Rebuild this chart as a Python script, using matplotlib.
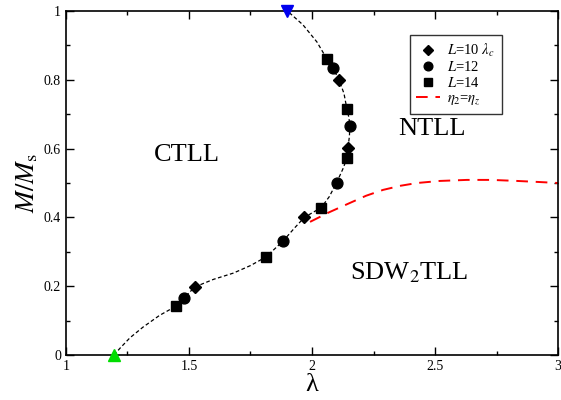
#!/usr/bin/env python3
"""Magnetization phase diagram M/Ms vs lambda."""

import matplotlib

matplotlib.use("Agg")
import matplotlib.pyplot as plt
from matplotlib.ticker import MultipleLocator

# L=10 (diamonds), L=12 (circles), L=14 (squares)
lam_L10 = [1.524, 1.969, 2.146, 2.110]
m_L10 = [0.198, 0.400, 0.602, 0.800]
lam_L12 = [1.480, 1.882, 2.100, 2.154, 2.085]
m_L12 = [0.166, 0.331, 0.501, 0.666, 0.834]
lam_L14 = [1.447, 1.813, 2.037, 2.142, 2.142, 2.061]
m_L14 = [0.142, 0.285, 0.428, 0.572, 0.715, 0.860]

# critical line (black dashed)
lam_crit = [1.195, 1.22, 1.26, 1.313, 1.38, 1.447, 1.48, 1.524, 1.60, 1.68, 1.75,
            1.813, 1.882, 1.93, 1.969, 2.00, 2.037, 2.07, 2.100, 2.125, 2.142, 2.146,
            2.152, 2.154, 2.150, 2.142, 2.13, 2.110, 2.085, 2.061, 2.02, 1.963, 1.90]
m_crit = [0.0, 0.02, 0.05, 0.081, 0.115, 0.142, 0.166, 0.198, 0.22, 0.238, 0.26,
          0.285, 0.331, 0.37, 0.400, 0.413, 0.428, 0.46, 0.501, 0.54, 0.572, 0.602,
          0.635, 0.666, 0.69, 0.715, 0.76, 0.800, 0.834, 0.860, 0.91, 0.96, 1.0]

# eta_2 = eta_z line (red dashed)
lam_eta = [1.992, 2.07, 2.154, 2.22, 2.289, 2.36, 2.427, 2.52, 2.63, 2.73, 2.833, 2.92, 3.0]
m_eta = [0.387, 0.415, 0.442, 0.463, 0.480, 0.492, 0.500, 0.506, 0.509, 0.509, 0.506, 0.503, 0.500]

# end points
lam_start, m_start = 1.195, 0.0
lam_end, m_end = 1.9, 1.0

plt.rcParams["font.family"] = ["Liberation Serif", "DejaVu Serif"]
plt.rcParams["mathtext.fontset"] = "stix"


def main():
    fig = plt.figure(figsize=(5.61, 4.0), dpi=100)
    ax = fig.add_axes([0.1176, 0.1125, 0.8771, 0.86])

    ax.plot(lam_crit, m_crit, color="black", lw=0.9, dashes=(3, 2))
    ax.plot(lam_eta, m_eta, color="red", lw=1.4, dashes=(6, 4),
            label=r"$\eta_2$=$\eta_z$")

    ax.plot(lam_L10, m_L10, "D", color="black", ms=6, ls="none",
            label=r"$L$=10 $\lambda_c$")
    ax.plot(lam_L12, m_L12, "o", color="black", ms=7.8, ls="none", label=r"$L$=12")
    ax.plot(lam_L14, m_L14, "s", color="black", ms=7, ls="none", label=r"$L$=14")

    ax.plot([lam_start], [m_start], "^", color="#00dd00", ms=8.5, clip_on=False, zorder=5)
    ax.plot([lam_end], [m_end], "v", color="#0000ee", ms=8.5, clip_on=False, zorder=5)

    ax.set_xlim(1, 3)
    ax.set_ylim(0, 1)
    ax.xaxis.set_major_locator(MultipleLocator(0.5))
    ax.xaxis.set_minor_locator(MultipleLocator(0.25))
    ax.yaxis.set_major_locator(MultipleLocator(0.2))
    ax.yaxis.set_minor_locator(MultipleLocator(0.1))
    ax.set_xticklabels(["", "1", "1.5", "2", "2.5", "3"])
    ax.set_yticklabels(["", "0", "0.2", "0.4", "0.6", "0.8", "1"])
    ax.tick_params(which="both", direction="in", top=True, right=True, labelsize=10,
                   width=1.0)
    ax.tick_params(which="major", length=6)
    ax.tick_params(which="minor", length=3)
    for sp in ax.spines.values():
        sp.set_linewidth(1.2)

    # x label placed by hand so the tall glyph stays inside the figure
    fig.text(0.556, 0.022, "λ", fontsize=19, ha="center", va="baseline")
    ax.set_ylabel(r"$M/M_{\rm s}$", fontsize=19, labelpad=3)

    ax.text(1.492, 0.581, "CTLL", fontsize=19, ha="center", va="center")
    ax.text(2.488, 0.657, "NTLL", fontsize=19, ha="center", va="center")
    ax.text(2.155, 0.238, r"SDW$_2$TLL", fontsize=19, ha="left", va="center")

    handles, labels = ax.get_legend_handles_labels()
    order = [1, 2, 3, 0]
    leg = ax.legend([handles[i] for i in order], [labels[i] for i in order],
                    loc="upper left", bbox_to_anchor=(0.699, 0.93), fontsize=10.5,
                    frameon=True, fancybox=False, edgecolor="black",
                    borderaxespad=0, handlelength=1.6, handletextpad=0.5,
                    borderpad=0.45, labelspacing=0.12, markerscale=0.8)
    leg.get_frame().set_linewidth(1.0)

    fig.savefig("out.png", dpi=100)


if __name__ == "__main__":
    main()
